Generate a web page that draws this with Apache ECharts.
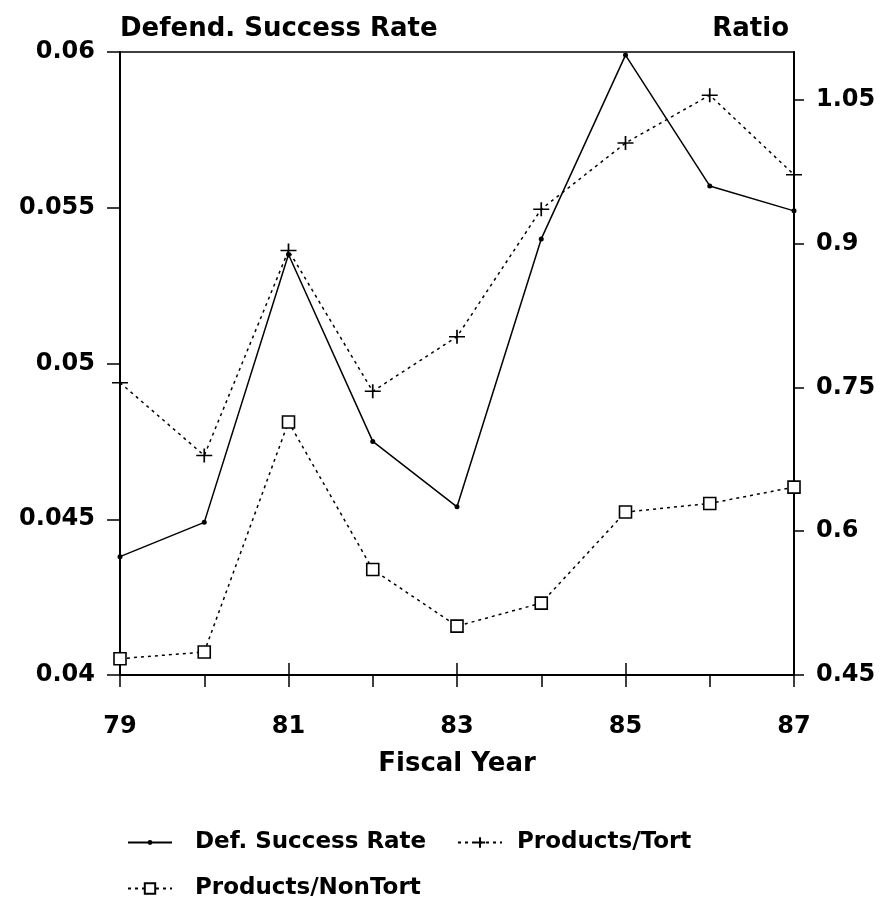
<!DOCTYPE html>
<html>
<head>
<meta charset="utf-8">
<script src="https://cdn.jsdelivr.net/npm/echarts@6/dist/echarts.min.js"></script>
<style>
html,body{margin:0;padding:0;background:#fff;}
#chart{width:883px;height:898px;}
</style>
</head>
<body>
<div id="chart"></div>
<script>
const years = [79, 80, 81, 82, 83, 84, 85, 86, 87];
const defSuccessRate = [0.0438, 0.0449, 0.0535, 0.0475, 0.0454, 0.0540, 0.0599, 0.0557, 0.0549];
const productsTort = [0.755, 0.679, 0.893, 0.746, 0.803, 0.936, 1.005, 1.055, 0.972];
const productsNonTort = [0.467, 0.474, 0.714, 0.560, 0.501, 0.525, 0.620, 0.629, 0.646];
const rightTicks = [0.45, 0.6, 0.75, 0.9, 1.05];

const FONT = '"DejaVu Sans", sans-serif';
const pair = (arr) => years.map((y, i) => [y, arr[i]]);
const plusPath = 'path://M0,7L16,7M8,0L8,14';
const legendText = {fontFamily: FONT, fontSize: 23, fontWeight: 'bold', color: '#000'};

const chart = echarts.init(document.getElementById('chart'), null, {renderer: 'canvas'});
chart.setOption({
  animation: false,
  backgroundColor: '#fff',
  title: [
    {text: 'Defend. Success Rate', left: 115, top: 11,
     textStyle: {fontFamily: FONT, fontSize: 26, fontWeight: 'bold', color: '#000'}},
    {text: 'Ratio', right: 89, top: 11,
     textStyle: {fontFamily: FONT, fontSize: 26, fontWeight: 'bold', color: '#000'}}
  ],
  grid: {left: 120, right: 89, top: 52, bottom: 223, show: true,
         borderColor: '#000', borderWidth: 1.5, backgroundColor: 'transparent'},
  legend: [
    {data: ['Def. Success Rate'], left: 122, top: 826, itemWidth: 44, itemHeight: 6,
     textStyle: Object.assign({padding: [0, 0, 0, 18]}, legendText)},
    {data: ['Products/Tort'], left: 452, top: 826, itemWidth: 44, itemHeight: 13,
     textStyle: Object.assign({padding: [0, 0, 0, 10]}, legendText)},
    {data: ['Products/NonTort'], left: 122, top: 872, itemWidth: 44, itemHeight: 13,
     textStyle: Object.assign({padding: [0, 0, 0, 18]}, legendText)}
  ],
  xAxis: [
    {type: 'value', min: 79, max: 87, interval: 1, position: 'bottom',
     name: 'Fiscal Year', nameLocation: 'middle', nameGap: 76,
     nameTextStyle: {fontFamily: FONT, fontSize: 26, fontWeight: 'bold', color: '#000'},
     axisLine: {show: true, lineStyle: {color: '#000', width: 2}},
     axisTick: {show: true, inside: false, length: 12, lineStyle: {color: '#000', width: 1.5}},
     axisLabel: {margin: 40, fontFamily: FONT, fontSize: 24, fontWeight: 'bold', color: '#000',
                 formatter: (v) => (v % 2 === 1 ? String(v) : '')},
     splitLine: {show: false}},
    {type: 'value', min: 79, max: 87, interval: 2, position: 'bottom',
     axisLine: {show: false},
     axisTick: {show: true, inside: true, length: 12, lineStyle: {color: '#000', width: 1.5}},
     axisLabel: {show: false}, splitLine: {show: false}}
  ],
  yAxis: [
    {type: 'value', min: 0.04, max: 0.06, interval: 0.005, position: 'left',
     axisLine: {show: true, lineStyle: {color: '#000', width: 2}},
     axisTick: {show: true, length: 13, lineStyle: {color: '#000', width: 1.5}},
     axisLabel: {margin: 25, fontFamily: FONT, fontSize: 24, fontWeight: 'bold', color: '#000'},
     splitLine: {show: false}},
    {type: 'value', min: 0.45, max: 1.1, interval: 0.15, position: 'right',
     axisLine: {show: true, lineStyle: {color: '#000', width: 2}},
     axisTick: {show: true, length: 10, customValues: rightTicks, lineStyle: {color: '#000', width: 1.5}},
     axisLabel: {margin: 22, fontFamily: FONT, fontSize: 24, fontWeight: 'bold', color: '#000',
                 customValues: rightTicks, formatter: (v) => String(+v.toFixed(2))},
     splitLine: {show: false}}
  ],
  series: [
    {name: 'Def. Success Rate', type: 'line', xAxisIndex: 0, yAxisIndex: 0,
     data: pair(defSuccessRate), clip: false,
     symbol: 'circle', symbolSize: 5,
     itemStyle: {color: '#000'},
     lineStyle: {color: '#000', width: 1.5, type: 'solid'}},
    {name: 'Products/Tort', type: 'line', xAxisIndex: 0, yAxisIndex: 1,
     data: pair(productsTort), clip: false,
     symbol: plusPath, symbolSize: [16, 14],
     itemStyle: {color: 'none', borderColor: '#000', borderWidth: 1.6},
     lineStyle: {color: '#000', width: 1.5, type: [3, 4]}},
    {name: 'Products/NonTort', type: 'line', xAxisIndex: 0, yAxisIndex: 1,
     data: pair(productsNonTort), clip: false,
     symbol: 'rect', symbolSize: 12,
     itemStyle: {color: '#fff', borderColor: '#000', borderWidth: 1.6},
     lineStyle: {color: '#000', width: 1.5, type: [3, 4]}}
  ]
});
</script>
</body>
</html>
